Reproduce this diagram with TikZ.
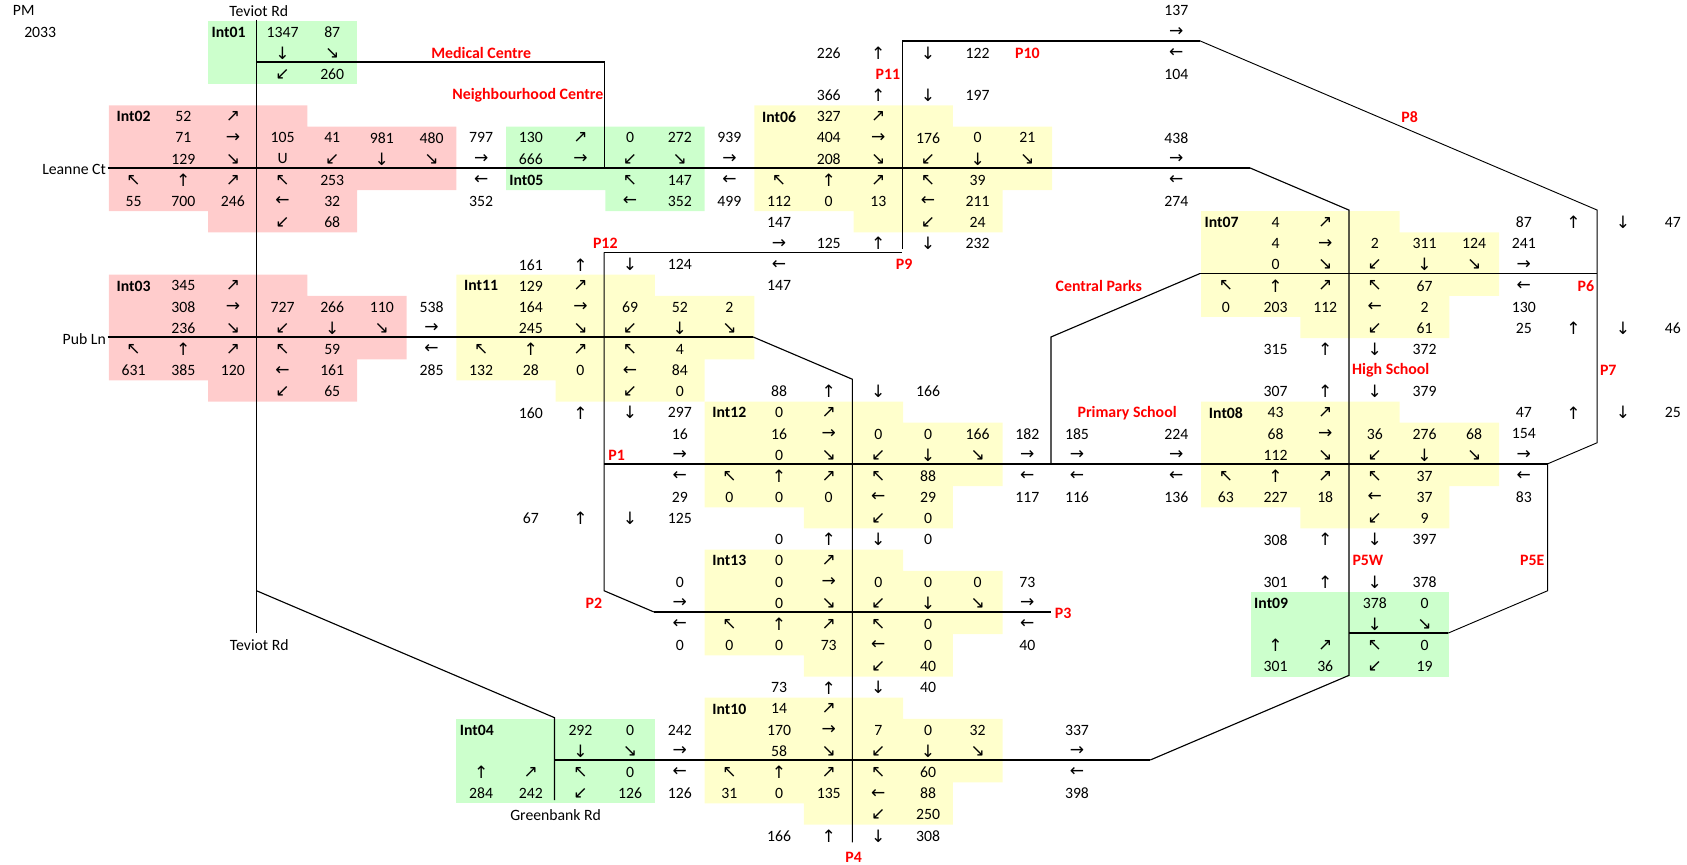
\documentclass[tikz,border=0pt]{standalone}
\usepackage{fontspec}
\setmainfont{Carlito}
\newfontfamily\arrowfont{DejaVu Sans}
\newcommand\aN{{\arrowfont\fontsize{12.8pt}{13pt}\selectfont ↑}}
\newcommand\aS{{\arrowfont\fontsize{12.8pt}{13pt}\selectfont ↓}}
\newcommand\aE{{\arrowfont\fontsize{12.8pt}{13pt}\selectfont →}}
\newcommand\aW{{\arrowfont\fontsize{12.8pt}{13pt}\selectfont ←}}
\newcommand\aNE{{\arrowfont\fontsize{12.8pt}{13pt}\selectfont ↗}}
\newcommand\aNW{{\arrowfont\fontsize{12.8pt}{13pt}\selectfont ↖}}
\newcommand\aSE{{\arrowfont\fontsize{12.8pt}{13pt}\selectfont ↘}}
\newcommand\aSW{{\arrowfont\fontsize{12.8pt}{13pt}\selectfont ↙}}
\definecolor{pinkcell}{HTML}{FFCCCC}
\definecolor{greencell}{HTML}{CCFFCC}
\definecolor{yellowcell}{HTML}{FFFFCC}
\tikzset{
  cell/.style={inner sep=0pt,outer sep=0pt,yshift=-0.5pt,font=\fontsize{11.8pt}{12pt}\selectfont,text=black},
  intlabel/.style={cell,font=\fontsize{11.8pt}{12pt}\selectfont\bfseries,text=black},
  redlabel/.style={cell,font=\fontsize{11.9pt}{12pt}\selectfont\bfseries,text=red},
  road/.style={draw=black,line width=0.85pt,line join=miter},
  midroad/.style={draw=black,line width=1.1pt,line join=miter},
  mainroad/.style={draw=black,line width=1.5pt,line join=miter},
  hairroad/.style={draw=black,line width=0.7pt,line join=miter},
}
\newcommand\Rw[2]{\foreach \cc/\tx in {#2}{\node[cell] (n#1-\cc) at (\cc+.5,#1+.5) {\tx};}}
\begin{document}
\begin{tikzpicture}[x=37.2375pt,y=-15.8625pt]
\useasboundingbox (-2.1913,0.0142) rectangle (31.7865,40.91);
% fills
\fill[pinkcell] (0,5)--(4,5)--(4,6)--(7,6)--(7,9)--(5,9)--(5,11)--(2,11)--(2,10)--(0,10)--cycle;
\fill[pinkcell] (0,13)--(4,13)--(4,14)--(6,14)--(6,17)--(5,17)--(5,19)--(2,19)--(2,18)--(0,18)--cycle;
\fill[greencell] (2,1) rectangle (5,4);
\fill[greencell] (8,6)--(12,6)--(12,10)--(10,10)--(10,9)--(8,9)--cycle;
\fill[greencell] (7,34) rectangle (11,38);
\fill[greencell] (23,28) rectangle (27,32);
\fill[yellowcell] (7,13)--(11,13)--(11,14)--(13,14)--(13,17)--(12,17)--(12,19)--(9,19)--(9,18)--(7,18)--cycle;
\fill[yellowcell] (13,5)--(17,5)--(17,6)--(19,6)--(19,9)--(18,9)--(18,11)--(15,11)--(15,10)--(13,10)--cycle;
\fill[yellowcell] (22,10)--(26,10)--(26,11)--(28,11)--(28,14)--(27,14)--(27,16)--(24,16)--(24,15)--(22,15)--cycle;
\fill[yellowcell] (12,19)--(16,19)--(16,20)--(18,20)--(18,23)--(17,23)--(17,25)--(14,25)--(14,24)--(12,24)--cycle;
\fill[yellowcell] (22,19)--(26,19)--(26,20)--(28,20)--(28,23)--(27,23)--(27,25)--(24,25)--(24,24)--(22,24)--cycle;
\fill[yellowcell] (12,26)--(16,26)--(16,27)--(18,27)--(18,30)--(17,30)--(17,32)--(14,32)--(14,31)--(12,31)--cycle;
\fill[yellowcell] (12,33)--(16,33)--(16,34)--(18,34)--(18,37)--(17,37)--(17,39)--(14,39)--(14,38)--(12,38)--cycle;
% junction points (roads sit a pixel up and left of the cell edges)
\begin{scope}[xshift=-0.85pt,yshift=0.85pt]
\coordinate (tevN) at (3,1); \coordinate (tevS) at (3,30); \coordinate (tevD) at (3,28);
\coordinate (medW) at (3,3); \coordinate (medE) at (10,3); \coordinate (neighS) at (10,8);
\coordinate (leaW) at (0,8); \coordinate (leaE) at (23,8); \coordinate (hsN) at (25,10); \coordinate (hsS) at (25,32);
\coordinate (soE) at (21,36); \coordinate (soW) at (9,36); \coordinate (grS) at (9,37.9); \coordinate (grN) at (9,34);
\coordinate (pubW) at (0,16); \coordinate (pubE) at (13,16); \coordinate (p4N) at (15,18); \coordinate (p4S) at (15,39.9);
\coordinate (p12) at (10,12); \coordinate (p9) at (16,12); \coordinate (p9t) at (16,11.85); \coordinate (p11) at (16,2);
\coordinate (p8W) at (22,2); \coordinate (p8E) at (30,10); \coordinate (p7S) at (30,21); \coordinate (p5N) at (29,22);
\coordinate (p5S) at (29,28); \coordinate (i9E) at (27,30); \coordinate (i9W) at (25,30);
\coordinate (p2N) at (10,28); \coordinate (p2E) at (11,29); \coordinate (p3) at (19,29);
\coordinate (p1) at (10,22); \coordinate (cpS) at (19,22); \coordinate (cpM) at (19,16); \coordinate (cpN) at (22,13); \coordinate (p6) at (30,13);
\end{scope}
% roads
\draw[road] (tevN)--(tevS);
\draw[road] (medW)--(medE)--(neighS);
\draw[mainroad] (leaW)--(leaE);
\draw[road] (leaE)--(hsN)--(hsS)--(soE);
\draw[mainroad] (soE)--(soW);
\draw[road] (grS)--(grN)--(tevD);
\draw[mainroad] (pubW)--(pubE);
\draw[road] (pubE)--(p4N)--(p4S);
\draw[midroad] (p12)--(p9);
\draw[road] (p9t)--(p11);
\draw[midroad] (p11)--(p8W);
\draw[hairroad] (p8W)--(p8E)--(p7S)--(p5N)--(p5S)--(i9E);
\draw[mainroad] (i9E)--(i9W);
\draw[road] (p12)--(p2N)--(p2E);
\draw[mainroad] (p2E)--(p3);
\draw[mainroad] (p1)--(p5N);
\draw[road] (cpS)--(cpM)--(cpN);
\draw[midroad] (cpN)--(p6);
% text rows
\Rw{0}{21/137}
\Rw{1}{3/1347,4/87,21/\aE}
\Rw{2}{3/\aS,4/\aSE,14/226,15/\aN,16/\aS,17/122,21/\aW}
\Rw{3}{3/\aSW,4/260,21/104}
\Rw{4}{14/366,15/\aN,16/\aS,17/197}
\Rw{5}{1/52,2/\aNE,14/327,15/\aNE}
\Rw{6}{1/71,2/\aE,3/105,4/41,5/981,6/480,7/797,8/130,9/\aNE,10/0,11/272,12/939,14/404,15/\aE,16/176,17/0,18/21,21/438}
\Rw{7}{1/129,2/\aSE,3/U,4/\aSW,5/\aS,6/\aSE,7/\aE,8/666,9/\aE,10/\aSW,11/\aSE,12/\aE,14/208,15/\aSE,16/\aSW,17/\aS,18/\aSE,21/\aE}
\Rw{8}{0/\aNW,1/\aN,2/\aNE,3/\aNW,4/253,7/\aW,10/\aNW,11/147,12/\aW,13/\aNW,14/\aN,15/\aNE,16/\aNW,17/39,21/\aW}
\Rw{9}{0/55,1/700,2/246,3/\aW,4/32,7/352,10/\aW,11/352,12/499,13/112,14/0,15/13,16/\aW,17/211,21/274}
\Rw{10}{3/\aSW,4/68,13/147,16/\aSW,17/24,23/4,24/\aNE,28/87,29/\aN,30/\aS,31/47}
\Rw{11}{13/\aE,14/125,15/\aN,16/\aS,17/232,23/4,24/\aE,25/2,26/311,27/124,28/241}
\Rw{12}{8/161,9/\aN,10/\aS,11/124,13/\aW,23/0,24/\aSE,25/\aSW,26/\aS,27/\aSE,28/\aE}
\Rw{13}{1/345,2/\aNE,8/129,9/\aNE,13/147,22/\aNW,23/\aN,24/\aNE,25/\aNW,26/67,28/\aW}
\Rw{14}{1/308,2/\aE,3/727,4/266,5/110,6/538,8/164,9/\aE,10/69,11/52,12/2,22/0,23/203,24/112,25/\aW,26/2,28/130}
\Rw{15}{1/236,2/\aSE,3/\aSW,4/\aS,5/\aSE,6/\aE,8/245,9/\aSE,10/\aSW,11/\aS,12/\aSE,25/\aSW,26/61,28/25,29/\aN,30/\aS,31/46}
\Rw{16}{0/\aNW,1/\aN,2/\aNE,3/\aNW,4/59,6/\aW,7/\aNW,8/\aN,9/\aNE,10/\aNW,11/4,23/315,24/\aN,25/\aS,26/372}
\Rw{17}{0/631,1/385,2/120,3/\aW,4/161,6/285,7/132,8/28,9/0,10/\aW,11/84}
\Rw{18}{3/\aSW,4/65,10/\aSW,11/0,13/88,14/\aN,15/\aS,16/166,23/307,24/\aN,25/\aS,26/379}
\Rw{19}{8/160,9/\aN,10/\aS,11/297,13/0,14/\aNE,23/43,24/\aNE,28/47,29/\aN,30/\aS,31/25}
\Rw{20}{11/16,13/16,14/\aE,15/0,16/0,17/166,18/182,19/185,21/224,23/68,24/\aE,25/36,26/276,27/68,28/154}
\Rw{21}{11/\aE,13/0,14/\aSE,15/\aSW,16/\aS,17/\aSE,18/\aE,19/\aE,21/\aE,23/112,24/\aSE,25/\aSW,26/\aS,27/\aSE,28/\aE}
\Rw{22}{11/\aW,12/\aNW,13/\aN,14/\aNE,15/\aNW,16/88,18/\aW,19/\aW,21/\aW,22/\aNW,23/\aN,24/\aNE,25/\aNW,26/37,28/\aW}
\Rw{23}{11/29,12/0,13/0,14/0,15/\aW,16/29,18/117,19/116,21/136,22/63,23/227,24/18,25/\aW,26/37,28/83}
\Rw{24}{8/67,9/\aN,10/\aS,11/125,15/\aSW,16/0,25/\aSW,26/9}
\Rw{25}{13/0,14/\aN,15/\aS,16/0,23/308,24/\aN,25/\aS,26/397}
\Rw{26}{13/0,14/\aNE}
\Rw{27}{11/0,13/0,14/\aE,15/0,16/0,17/0,18/73,23/301,24/\aN,25/\aS,26/378}
\Rw{28}{11/\aE,13/0,14/\aSE,15/\aSW,16/\aS,17/\aSE,18/\aE,25/378,26/0}
\Rw{29}{11/\aW,12/\aNW,13/\aN,14/\aNE,15/\aNW,16/0,18/\aW,25/\aS,26/\aSE}
\Rw{30}{11/0,12/0,13/0,14/73,15/\aW,16/0,18/40,23/\aN,24/\aNE,25/\aNW,26/0}
\Rw{31}{15/\aSW,16/40,23/301,24/36,25/\aSW,26/19}
\Rw{32}{13/73,14/\aN,15/\aS,16/40}
\Rw{33}{13/14,14/\aNE}
\Rw{34}{9/292,10/0,11/242,13/170,14/\aE,15/7,16/0,17/32,19/337}
\Rw{35}{9/\aS,10/\aSE,11/\aE,13/58,14/\aSE,15/\aSW,16/\aS,17/\aSE,19/\aE}
\Rw{36}{7/\aN,8/\aNE,9/\aNW,10/0,11/\aW,12/\aNW,13/\aN,14/\aNE,15/\aNW,16/60,19/\aW}
\Rw{37}{7/284,8/242,9/\aSW,10/126,11/126,12/31,13/0,14/135,15/\aW,16/88,19/398}
\Rw{38}{15/\aSW,16/250}
\Rw{39}{13/166,14/\aN,15/\aS,16/308}
% plain labels
\node[cell,anchor=west] (pm) at (-1.93,0.5) {PM};
\node[cell,anchor=east] (yr) at (-1.06,1.5) {2033};
\node[cell] (tev1) at (3.02,0.5) {Teviot Rd};
\node[cell] (tev2) at (3.03,30.5) {Teviot Rd};
\node[cell,anchor=east] (lea) at (-0.06,8) {Leanne Ct};
\node[cell,anchor=east] (pub) at (-0.06,16) {Pub Ln};
\node[cell] (grb) at (9,38.5) {Greenbank Rd};
% intersection labels
\node[intlabel,anchor=west] (i1) at (2.07,1.5) {Int01};
\node[intlabel] (i2) at (0.5,5.5) {Int02};
\node[intlabel] (i3) at (0.5,13.5) {Int03};
\node[intlabel,anchor=west] (i4) at (7.07,34.5) {Int04};
\node[intlabel,anchor=west] (i5) at (8.07,8.5) {Int05};
\node[intlabel] (i6) at (13.5,5.5) {Int06};
\node[intlabel,anchor=west] (i7) at (22.07,10.5) {Int07};
\node[intlabel] (i8) at (22.5,19.5) {Int08};
\node[intlabel,anchor=west] (i9) at (23.07,28.5) {Int09};
\node[intlabel] (i10) at (12.5,33.5) {Int10};
\node[intlabel] (i11) at (7.5,13.5) {Int11};
\node[intlabel] (i12) at (12.5,19.5) {Int12};
\node[intlabel] (i13) at (12.5,26.5) {Int13};
% red labels
\node[redlabel] (l1) at (7.5,2.5) {Medical Centre};
\node[redlabel,anchor=east] (l2) at (9.96,4.5) {Neighbourhood Centre};
\node[redlabel] (l3) at (19.94,13.5) {Central Parks};
\node[redlabel] (l4) at (25.82,17.5) {High School};
\node[redlabel] (l5) at (20.51,19.5) {Primary School};
\node[redlabel] (p1l) at (10.23,21.5) {P1};
\node[redlabel] (p2l) at (9.77,28.5) {P2};
\node[redlabel] (p3l) at (19.22,29) {P3};
\node[redlabel] (p4l) at (15,40.5) {P4};
\node[redlabel] (p5wl) at (25.36,26.5) {P5W};
\node[redlabel] (p5el) at (28.67,26.5) {P5E};
\node[redlabel] (p6l) at (29.75,13.5) {P6};
\node[redlabel] (p7l) at (30.2,17.5) {P7};
\node[redlabel] (p8l) at (26.2,5.5) {P8};
\node[redlabel] (p9l) at (16.02,12.5) {P9};
\node[redlabel] (p10l) at (18.5,2.5) {P10};
\node[redlabel,anchor=east] (p11l) at (15.94,3.5) {P11};
\node[redlabel] (p12l) at (10,11.5) {P12};
\end{tikzpicture}
\end{document}
